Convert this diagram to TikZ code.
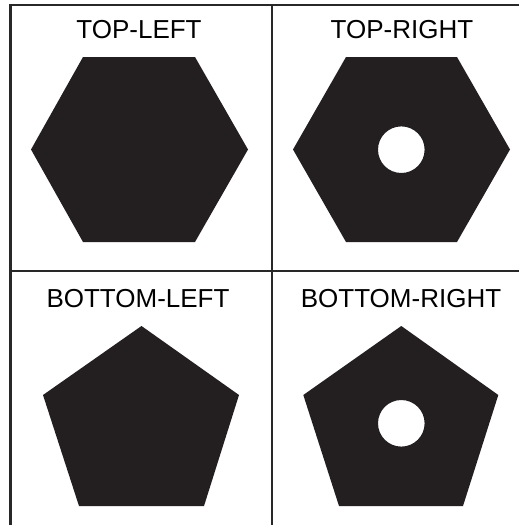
\documentclass[tikz,border=0pt]{standalone}
\usepackage{fontspec}
\setmainfont{Liberation Sans}
\definecolor{shapefill}{RGB}{35,31,32}
\definecolor{gridline}{RGB}{40,40,40}
\begin{document}
\begin{tikzpicture}[x=1pt,y=-1pt,
  lbl/.style={anchor=base,inner sep=0pt,font=\fontsize{26}{26}\selectfont},
  gridln/.style={draw=gridline,line width=1.8pt},
  solid shape/.style={fill=shapefill,draw=none,even odd rule}]
\useasboundingbox[fill=white] (0,0) rectangle (519,525);
% grid
\draw[gridln,line width=2.6pt] (10.5,525) -- (10.5,5) -- (519,5);
\draw[gridln] (272,5) -- (272,525);
\draw[gridln] (10.5,271) -- (519,271);
% labels
\node[lbl] (tl) at (139,38) {TOP-LEFT};
\node[lbl] (tr) at (402,38) {TOP-RIGHT};
\node[lbl] (bl) at (138,307) {BOTTOM-LEFT};
\node[lbl] (br) at (401,307) {BOTTOM-RIGHT};
% top-left hexagon
\fill[solid shape] (83,57) -- (195,57) -- (248,149.5) -- (195,242) -- (83,242) -- (31,149.5) -- cycle;
% top-right hexagon with hole
\fill[solid shape] (346,57) -- (457,57) -- (510,149.5) -- (457,242) -- (346,242) -- (293,149.5) -- cycle
  (401.3,149.7) circle[radius=23.3];
% bottom-left pentagon
\fill[solid shape] (141.5,326) -- (239,395) -- (204,506) -- (79,506) -- (43,395) -- cycle;
% bottom-right pentagon with hole
\fill[solid shape] (401.3,326) -- (498.3,395) -- (463,506) -- (339,506) -- (303.3,395) -- cycle
  (401.3,423.3) circle[radius=23.3];
\end{tikzpicture}
\end{document}
